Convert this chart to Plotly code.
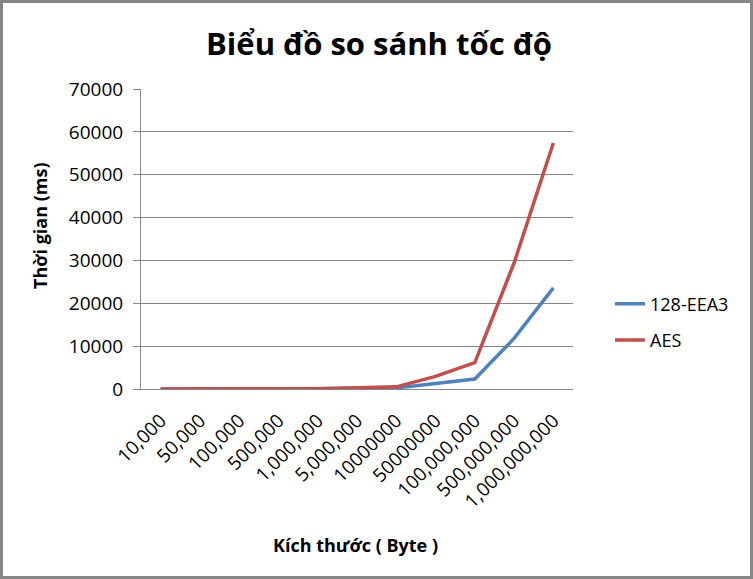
import plotly.graph_objects as go

categories = ["10,000", "50,000", "100,000", "500,000", "1,000,000", "5,000,000",
              "10000000", "50000000", "100,000,000", "500,000,000", "1,000,000,000"]
eea3 = [0.3, 1.2, 2.4, 12, 24, 120, 240, 1200, 2330, 11800, 23600]
aes = [0.6, 3, 6, 30, 60, 300, 500, 2950, 6140, 29400, 57400]
y_ticks = [0, 10000, 20000, 30000, 40000, 50000, 60000, 70000]

W, H = 753, 579
L, R, T, B = 141, 180, 89, 190
pw, ph = W - L - R, H - T - B

FONT = "Open Sans"
GRAY = "#868686"

fig = go.Figure()
fig.add_trace(go.Scatter(x=categories, y=eea3, mode="lines", name="128-EEA3",
                         line=dict(color="#4F81BD", width=3.5), legendgroup="a"))
fig.add_trace(go.Scatter(x=categories, y=aes, mode="lines", name="AES",
                         line=dict(color="#C0504D", width=3.5), legendgroup="b"))

fig.update_layout(
    width=W, height=H,
    margin=dict(l=L, r=R, t=T, b=B),
    paper_bgcolor="white", plot_bgcolor="white",
    font=dict(family=FONT, color="black", size=18),
    title=dict(text="<b>Biểu đồ so sánh tốc độ</b>", x=(379) / W, xanchor="center",
               y=1 - 44 / H, yanchor="middle", font=dict(size=31, family=FONT)),
    showlegend=True,
    legend=dict(x=(610 - L) / pw, y=(389 - 322) / ph, xanchor="left", yanchor="middle",
                font=dict(size=18), tracegroupgap=10, bgcolor="rgba(0,0,0,0)"),
    xaxis=dict(type="category", range=[-0.5, 10.5], showgrid=False,
               showline=True, linecolor=GRAY, linewidth=1, ticks="",
               tickangle=-45, tickfont=dict(size=19), zeroline=False,
               ticklabelstandoff=12),
    yaxis=dict(range=[0, 70000], tickvals=y_ticks, ticktext=[str(v) for v in y_ticks],
               showgrid=True, gridcolor=GRAY, gridwidth=1,
               showline=True, linecolor=GRAY, linewidth=1,
               ticks="outside", ticklen=7, tickcolor=GRAY, tickfont=dict(size=19),
               zeroline=False, ticklabelstandoff=6),
    shapes=[dict(type="rect", xref="paper", yref="paper",
                 x0=-(L - 1.5) / pw, x1=1 + (R - 1.5) / pw,
                 y0=-(B - 1.5) / ph, y1=1 + (T - 1.5) / ph,
                 line=dict(color=GRAY, width=3))],
    annotations=[
        dict(text="<b>Kích thước ( Byte )</b>", xref="paper", yref="paper",
             x=(355 - L) / pw, y=-(545 - T - ph) / ph, showarrow=False,
             xanchor="center", yanchor="middle", font=dict(size=18)),
        dict(text="<b>Thời gian (ms)</b>", xref="paper", yref="paper",
             x=-(L - 40) / pw, y=(389 - 226) / ph, showarrow=False, textangle=-90,
             xanchor="center", yanchor="middle", font=dict(size=18)),
    ],
)

fig.write_html("out.html")
